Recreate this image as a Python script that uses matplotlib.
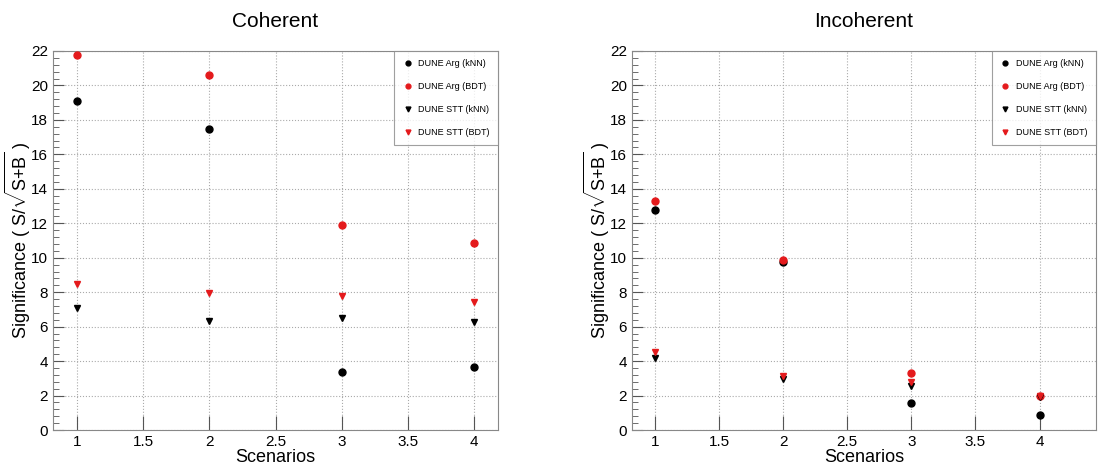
import matplotlib
matplotlib.use("Agg")
import matplotlib.pyplot as plt
from matplotlib.ticker import MultipleLocator, FormatStrFormatter

plt.rcParams["font.family"] = ["Liberation Sans", "DejaVu Sans"]
plt.rcParams["mathtext.fontset"] = "custom"
plt.rcParams["mathtext.rm"] = "Liberation Sans"
plt.rcParams["mathtext.it"] = "Liberation Sans"

scenarios = [1, 2, 3, 4]

# Coherent
coh_arg_knn = [19.1, 17.45, 3.38, 3.67]
coh_arg_bdt = [21.76, 20.6, 11.9, 10.87]
coh_stt_knn = [7.1, 6.35, 6.5, 6.25]
coh_stt_bdt = [8.45, 7.95, 7.75, 7.45]

# Incoherent
inc_arg_knn = [12.75, 9.73, 1.55, 0.87]
inc_arg_bdt = [13.29, 9.86, 3.31, 1.97]
inc_stt_knn = [4.2, 2.98, 2.55, 1.9]
inc_stt_bdt = [4.5, 3.12, 2.8, 1.95]

titles = ["Coherent", "Incoherent"]
labels = ["DUNE Arg (kNN)", "DUNE Arg (BDT)", "DUNE STT (kNN)", "DUNE STT (BDT)"]

RED = "#e41a1c"


def draw_panel(ax, title, arg_knn, arg_bdt, stt_knn, stt_bdt, xmax):
    ax.plot(scenarios, arg_knn, "o", color="black", ms=5, label=labels[0], zorder=3)
    ax.plot(scenarios, arg_bdt, "o", color=RED, ms=5, label=labels[1], zorder=3)
    ax.plot(scenarios, stt_knn, "v", color="black", ms=5, label=labels[2], zorder=3)
    ax.plot(scenarios, stt_bdt, "v", color=RED, ms=5, label=labels[3], zorder=3)

    ax.set_xlim(0.82, xmax)
    ax.set_ylim(0, 22)
    ax.xaxis.set_major_locator(MultipleLocator(0.5))
    ax.xaxis.set_major_formatter(FormatStrFormatter("%g"))
    ax.yaxis.set_major_locator(MultipleLocator(2))
    ax.yaxis.set_minor_locator(MultipleLocator(0.4))
    ax.tick_params(which="both", direction="in", color="#555555", labelsize=11)
    ax.tick_params(which="major", length=8)
    ax.tick_params(which="minor", length=4)
    ax.tick_params(axis="x", which="major", length=10)
    ax.grid(True, which="major", ls=":", color="#aaaaaa", lw=0.8)
    for s in ax.spines.values():
        s.set_color("#888888")
        s.set_linewidth(0.8)

    ax.set_title(title, fontsize=15, pad=17)
    ax.set_xlabel("Scenarios", fontsize=13, labelpad=0)
    ax.set_ylabel(r"Significance ( S/$\sqrt{\mathrm{S{+}B}}$ )", fontsize=13, labelpad=-1)

    leg = ax.legend(loc="upper right", fontsize=6.5, frameon=True, fancybox=False,
                    borderpad=0.9, labelspacing=1.55, handletextpad=0.6,
                    markerscale=0.7, handlelength=1.2, borderaxespad=0)
    leg.get_frame().set_edgecolor("#888888")
    leg.get_frame().set_linewidth(0.8)


fig = plt.figure(figsize=(10.98, 4.73), dpi=100)
ax1 = fig.add_axes([0.0483, 0.0909, 0.4053, 0.8013])
ax2 = fig.add_axes([0.5756, 0.0909, 0.4225, 0.8013])

draw_panel(ax1, titles[0], coh_arg_knn, coh_arg_bdt, coh_stt_knn, coh_stt_bdt, 4.18)
draw_panel(ax2, titles[1], inc_arg_knn, inc_arg_bdt, inc_stt_knn, inc_stt_bdt, 4.44)

fig.savefig("out.png", dpi=100)
